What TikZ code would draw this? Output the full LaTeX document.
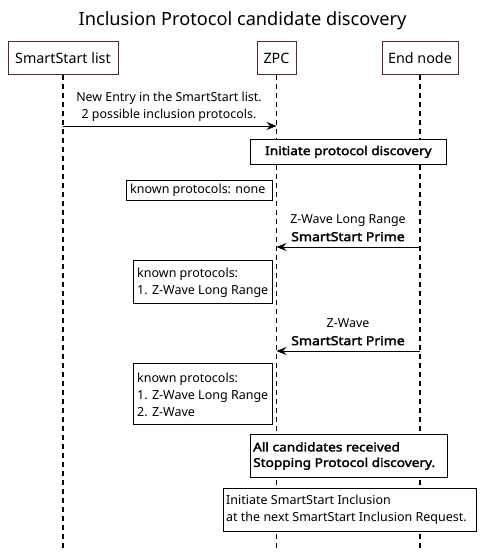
\documentclass[tikz,border=0pt]{standalone}
\usepackage{fontspec}
\setmainfont{Noto Sans}
\newfontfamily\bfam{Noto Sans}[FakeBold=2.4,FakeStretch=1.13]
\usetikzlibrary{arrows.meta}
\definecolor{pborder}{HTML}{5B2626}
\begin{document}
\begin{tikzpicture}[x=1pt,y=-1pt,
  part/.style={draw=pborder,line width=1pt,fill=white,minimum height=33pt,inner sep=0pt,font=\fontsize{14.3}{16}\selectfont},
  life/.style={line width=1.2pt,dash pattern=on 5pt off 4pt},
  msg/.style={line width=0.9pt,-{Stealth[length=10pt,width=8pt,inset=3.5pt]}},
  lbl/.style={font=\fontsize{12.4}{17.5}\selectfont,align=center,inner sep=0pt},
  box/.style={draw,line width=0.8pt,fill=white,inner sep=0pt,anchor=north west},
  ntext/.style={anchor=west,inner sep=0pt,font=\fontsize{12.5}{16.7}\selectfont,align=left},
  btext/.style={anchor=west,inner sep=0pt,font=\fontsize{12.1}{15.5}\selectfont\bfam,align=left}
]
\useasboundingbox (0,0) rectangle (485,557);
\node (title) at (242.5,21) {\fontsize{18.2}{20}\selectfont Inclusion Protocol candidate discovery};
% participants
\node[part,minimum width=110pt] (ss) at (63,58) {SmartStart list};
\node[part,minimum width=39pt] (zpc) at (276.5,58) {ZPC};
\node[part,minimum width=76pt] (en) at (420,58) {End node};
\coordinate (ssend) at (63,548);
\coordinate (zpcend) at (276.5,548);
\coordinate (enend) at (420,548);
\draw[life] (ss.south) -- (ssend);
\draw[life] (zpc.south) -- (zpcend);
\draw[life] (en.south) -- (enend);
% message 1
\coordinate (m1s) at (63,126);
\coordinate (m1e) at (276.5,126);
\draw[msg] (m1s) -- (m1e);
\node[lbl] (m1l) at (169,107) {New Entry in the SmartStart list.\\2 possible inclusion protocols.};
% initiate
\node[box,minimum width=196pt,minimum height=25pt] (init) at (250,139) {};
\node[inner sep=0pt,font=\fontsize{12.1}{14}\selectfont\bfam] (initt) at (init.center) {Initiate protocol discovery};
% note none
\node[box,minimum width=146pt,minimum height=20pt] (n0) at (126,180) {};
\node[ntext] (n0t) at (130,190) {known protocols: none};
% message 2
\coordinate (m2s) at (420,247);
\coordinate (m2e) at (276.5,247);
\draw[msg] (m2s) -- (m2e);
\node[lbl] (m2l) at (348,228) {Z-Wave Long Range\\{\bfam SmartStart Prime}};
% note 1
\node[box,minimum width=139pt,minimum height=43pt] (n1) at (133,260) {};
\node[ntext] (n1t) at (137,283) {known protocols:\\1. Z-Wave Long Range};
% message 3
\coordinate (m3s) at (420,351);
\coordinate (m3e) at (276.5,351);
\draw[msg] (m3s) -- (m3e);
\node[lbl] (m3l) at (348,332) {Z-Wave\\{\bfam SmartStart Prime}};
% note 2
\node[box,minimum width=139pt,minimum height=61pt] (n2) at (133,363) {};
\node[ntext] (n2t) at (137,395) {known protocols:\\1. Z-Wave Long Range\\2. Z-Wave};
% all candidates
\node[box,minimum width=197pt,minimum height=43pt] (ac) at (250,434) {};
\node[btext] (act) at (253,456) {All candidates received\\Stopping Protocol discovery.};
% initiate inclusion
\node[box,minimum width=253pt,minimum height=43pt] (ii) at (223,488) {};
\node[ntext] (iit) at (226,510) {Initiate SmartStart Inclusion\\at the next SmartStart Inclusion Request.};
\end{tikzpicture}
\end{document}
